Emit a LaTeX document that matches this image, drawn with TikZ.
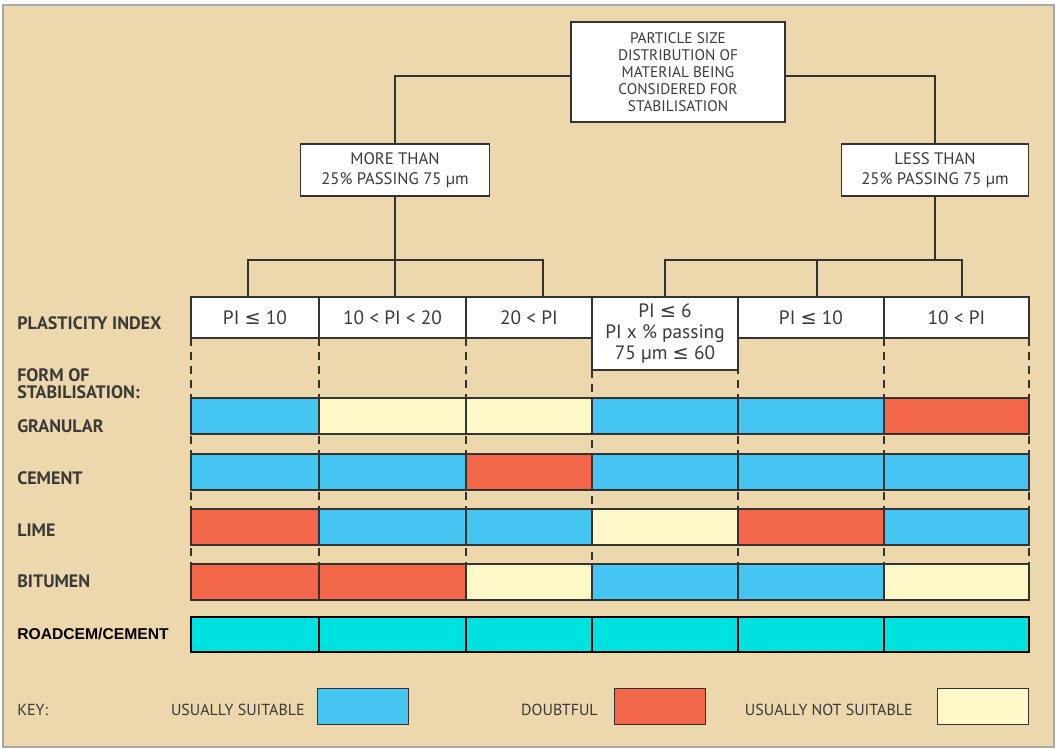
\documentclass[tikz,border=0pt]{standalone}
\usepackage{fontspec}
\setmainfont{PT Sans}
\newfontfamily\roadfont{Liberation Sans}
\newfontfamily\symfont{DejaVu Sans}
\newcommand\leqsym{{\symfont ≤}}
\usepackage{xcolor}
\usetikzlibrary{positioning, calc}

\definecolor{bgtan}{HTML}{EDD7AC}
\definecolor{suit}{HTML}{45C5F2}
\definecolor{doubt}{HTML}{F26649}
\definecolor{notsuit}{HTML}{FFF9CA}
\definecolor{roadcyan}{HTML}{00E2E0}
\definecolor{linegray}{HTML}{333333}
\definecolor{textgray}{HTML}{3A3A3A}
\definecolor{framegray}{HTML}{A8A8A8}

\begin{document}
\begin{tikzpicture}[
    x=0.75pt, y=-0.75pt,
    box/.style={rectangle, draw=linegray, fill=white, line width=1.1pt, align=center, inner sep=0pt, outer sep=0pt, text=textgray},
    headbox/.style={box, minimum width=160.5pt, minimum height=75pt, font=\fontsize{11.5}{12.75}\selectfont},
    splitbox/.style={box, minimum height=39pt, font=\fontsize{12.5}{15}\selectfont},
    picell/.style={box, anchor=north west, minimum height=30.75pt, font=\fontsize{14.5}{15.75}\selectfont},
    rowlabel/.style={anchor=west, inner sep=0pt, align=left, text=textgray, font=\bfseries\fontsize{13.5}{12.75}\selectfont},
    keylabel/.style={inner sep=0pt, text=textgray, font=\fontsize{12}{12}\selectfont},
    keybox/.style={rectangle, draw=linegray, line width=1.1pt, minimum width=68.25pt, minimum height=27pt, anchor=north west},
    link/.style={draw=linegray, line width=1.1pt},
    dashline/.style={draw=linegray, line width=1.1pt, dash pattern=on 6pt off 4.5pt},
    stripe/.style={draw=linegray, line width=1.1pt},
]
\useasboundingbox (0,0) rectangle (1057,749);
\fill[white] (0,0) rectangle (1057,749);
\filldraw[draw=framegray, fill=bgtan, line width=1.5pt] (3,5) rectangle (1054,747);

% Decision tree
\node[headbox] (top) at (678,72) {PARTICLE SIZE\\DISTRIBUTION OF\\MATERIAL BEING\\CONSIDERED FOR\\STABILISATION};
\node[splitbox, minimum width=141.75pt] (more) at (395,170) {MORE THAN\\25\% PASSING 75 µm};
\node[splitbox, minimum width=140.25pt] (less) at (935,170) {LESS THAN\\25\% PASSING 75 µm};

% Plasticity index cells
\node[picell, minimum width=96pt] (pi1) at (191,297) {PI \leqsym{} 10};
\node[picell, minimum width=110.25pt] (pi2) at (pi1.north east) {10 < PI < 20};
\node[picell, minimum width=94.5pt] (pi3) at (pi2.north east) {20 < PI};
\node[picell, minimum width=109.5pt, minimum height=54.75pt] (pi4) at (pi3.north east) {PI \leqsym{} 6\\PI x \% passing\\75 µm \leqsym{} 60};
\node[picell, minimum width=109.5pt] (pi5) at (pi4.north east) {PI \leqsym{} 10};
\node[picell, minimum width=108.75pt] (pi6) at (pi5.north east) {10 < PI};

% Tree links
\draw[link] ([yshift=-3pt]top.west) -| (more.north);
\draw[link] ([yshift=-3pt]top.east) -| (less.north);
\coordinate (lbus) at (more.south |- 0,260);
\coordinate (rbus) at (less.south |- 0,260);
\draw[link] (more.south) -- (lbus);
\draw[link] (less.south) -- (rbus);
\draw[link] ([xshift=-5.25pt]pi1.north) |- (lbus) -| ([xshift=10.5pt]pi3.north);
\draw[link] (lbus) -- (lbus |- pi2.north);
\draw[link] (pi4.north) |- (rbus) -| ([xshift=4pt]pi6.north);
\draw[link] ([xshift=4.5pt]pi5.north) -- ([xshift=4.5pt]pi5.north |- rbus);

% Dashed column guides
\foreach \c in {1,...,6}
    \draw[dashline] (pi\c.south west) -- (pi\c.south west |- 0,600);
\draw[dashline] (pi6.south east) -- (pi6.south east |- 0,600);

% Stabilisation rows
\foreach \ya/\yb/\fills in {398/434/{suit,notsuit,notsuit,suit,suit,doubt},
                            454/490/{suit,suit,doubt,suit,suit,suit},
                            509/545/{doubt,suit,suit,notsuit,doubt,suit},
                            564/600/{doubt,doubt,notsuit,suit,suit,notsuit}}{
    \foreach \f [count=\c] in \fills
        \filldraw[stripe, fill=\f] (pi\c.west |- 0,\ya) rectangle (pi\c.east |- 0,\yb);
}
\filldraw[fill=roadcyan, draw=black, line width=1.9pt] (pi1.west |- 0,617) rectangle (pi6.east |- 0,652);
\foreach \c in {2,...,6}
    \draw[black, line width=0.8pt] (pi\c.west |- 0,617) -- (pi\c.west |- 0,652);

% Row labels
\node[rowlabel] (lblpi) at (17,323) {PLASTICITY INDEX};
\node[rowlabel] (lblform) at (17,384) {FORM OF\\STABILISATION:};
\node[rowlabel] (lblgran) at (17,426) {GRANULAR};
\node[rowlabel] (lblcem) at (17,478) {CEMENT};
\node[rowlabel] (lbllime) at (17,530) {LIME};
\node[rowlabel] (lblbit) at (17,581) {BITUMEN};
\node[rowlabel, text=black, font=\roadfont\bfseries\fontsize{11.75}{12}\selectfont] (lblroad) at (17,634) {ROADCEM/CEMENT};

% Key
\node[keybox, fill=suit] (keysuit) at (317,688) {};
\node[keybox, fill=doubt] (keydoubt) at (614,688) {};
\node[keybox, fill=notsuit] (keynot) at (937,688) {};
\node[keylabel, anchor=west] (keytitle) at (17,710) {KEY:};
\node[keylabel, left=9pt of keysuit, yshift=-2.5pt] (lblsuit) {USUALLY SUITABLE};
\node[keylabel, left=12pt of keydoubt, yshift=-2.5pt] (lbldoubt) {DOUBTFUL};
\node[keylabel, left=18pt of keynot, yshift=-2.5pt] (lblnot) {USUALLY NOT SUITABLE};

\end{tikzpicture}
\end{document}
